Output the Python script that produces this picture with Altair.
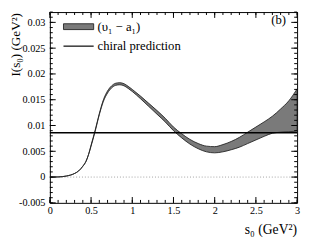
import altair as alt
import pandas as pd

# ---- data ----
s_vals = [0.0, 0.1, 0.2, 0.3, 0.35, 0.4, 0.44, 0.47, 0.5, 0.55, 0.6, 0.65, 0.7, 0.75,
          0.8, 0.85, 0.9, 0.95, 1.0, 1.1, 1.2, 1.3, 1.4, 1.5, 1.6, 1.7, 1.8, 1.9,
          2.0, 2.1, 2.2, 2.3, 2.4, 2.5, 2.6, 2.7, 2.8, 2.9, 3.0]
band_lo = [0.0, 0.00003, 0.0002, 0.0007, 0.0012, 0.0021, 0.0031, 0.0044, 0.0060, 0.0089,
           0.0121, 0.0147, 0.0163, 0.0173, 0.0178, 0.0179, 0.0177, 0.0172, 0.0166,
           0.0152, 0.0137, 0.0122, 0.0107, 0.0090, 0.0076, 0.0064, 0.0055, 0.0049,
           0.0047, 0.0049, 0.0053, 0.0058, 0.0065, 0.0072, 0.0079, 0.0085, 0.0087,
           0.0088, 0.0089]
band_hi = [0.0, 0.00003, 0.0002, 0.0007, 0.0012, 0.0021, 0.0031, 0.0044, 0.0062, 0.0091,
           0.0123, 0.0150, 0.0167, 0.0177, 0.0182, 0.0183, 0.0181, 0.0176, 0.0170,
           0.0157, 0.0143, 0.0129, 0.0114, 0.0097, 0.0084, 0.0073, 0.0065, 0.0060,
           0.0059, 0.0063, 0.0069, 0.0077, 0.0087, 0.0097, 0.0107, 0.0118, 0.0132,
           0.0148, 0.0171]
chiral_value = [0.0086]
zero_value = [0.0]

x_major = [0, 0.5, 1, 1.5, 2, 2.5, 3]
x_minor = [round(0.1 * i, 1) for i in range(31)]
y_major = [-0.005, 0.0, 0.005, 0.01, 0.015, 0.02, 0.025, 0.03]
y_minor = [round(-0.005 + 0.001 * i, 3) for i in range(38)]

legend_band = "(υ\u2081 \u2212 a\u2081)"
legend_line = "chiral prediction"
panel_label = "(b)"
x_title = "s\u2080 (GeV\u00b2)"
y_title = "I(s\u2080)  (GeV\u00b2)"

W, H = 254, 196
FONT = "Liberation Serif"
XDOM = [0, 3]
YDOM = [-0.005, 0.032]

band_df = pd.DataFrame({"s": s_vals, "lo": band_lo, "hi": band_hi})
chiral_df = pd.DataFrame({"v": chiral_value})
zero_df = pd.DataFrame({"v": zero_value})

xs = alt.Scale(domain=XDOM, nice=False, zero=False)
ys = alt.Scale(domain=YDOM, nice=False, zero=False)

x_axis = alt.Axis(values=x_major, ticks=False, tickSize=0, domain=False, grid=False,
                  labelFont=FONT, labelFontSize=10.5, labelColor="black", labelPadding=3,
                  labelExpr="'' + datum.value", labelFlush=False, title=None)
y_axis = alt.Axis(values=y_major, ticks=False, tickSize=0, domain=False, grid=False,
                  labelFont=FONT, labelFontSize=10.5, labelColor="black", labelPadding=5,
                  labelExpr="'' + datum.value", labelFlush=False, title=None)


def X(field):
    return alt.X(field, scale=xs, axis=x_axis, title=None)


def Y(field):
    return alt.Y(field, scale=ys, axis=y_axis, title=None)


zero_line = alt.Chart(zero_df).mark_rule(color="#888888", strokeWidth=0.8, strokeDash=[1, 2]).encode(
    y=Y("v:Q"), x=alt.value(0), x2=alt.value(W),
)

band = alt.Chart(band_df).mark_area(color="#7a7a7a", stroke="#222222", strokeWidth=0.9,
                                    clip=True, interpolate="monotone").encode(
    x=X("s:Q"), y=Y("lo:Q"), y2="hi:Q",
)

chiral = alt.Chart(chiral_df).mark_rule(color="black", strokeWidth=1.4).encode(
    y=Y("v:Q"), x=alt.value(0), x2=alt.value(W),
)


def hticks(vals, L):
    d = pd.DataFrame({"t": vals})
    left = alt.Chart(d).mark_rule(color="black", strokeWidth=1).encode(
        y=Y("t:Q"), x=alt.value(0), x2=alt.value(L))
    right = alt.Chart(d).mark_rule(color="black", strokeWidth=1).encode(
        y=Y("t:Q"), x=alt.value(W - L), x2=alt.value(W))
    return [left, right]


def vticks(vals, L):
    d = pd.DataFrame({"t": vals})
    bottom = alt.Chart(d).mark_rule(color="black", strokeWidth=1).encode(
        x=X("t:Q"), y=alt.value(H), y2=alt.value(H - L))
    top = alt.Chart(d).mark_rule(color="black", strokeWidth=1).encode(
        x=X("t:Q"), y=alt.value(0), y2=alt.value(L))
    return [bottom, top]


tick_layers = hticks(y_minor, 3) + hticks(y_major, 6) + vticks(x_minor, 3) + vticks(x_major, 6)

anchor = pd.DataFrame({"k": [0]})
leg_box = alt.Chart(anchor).mark_rect(color="#7a7a7a", stroke="#222222", strokeWidth=0.9).encode(
    x=alt.value(14), x2=alt.value(45), y=alt.value(12), y2=alt.value(18))
leg_line = alt.Chart(anchor).mark_rule(color="black", strokeWidth=1.2).encode(
    x=alt.value(14), x2=alt.value(45), y=alt.value(35))
leg_t1 = alt.Chart(anchor).mark_text(text=legend_band, font=FONT, fontSize=13, align="left",
                                     baseline="middle", color="black").encode(
    x=alt.value(49), y=alt.value(15))
leg_t2 = alt.Chart(anchor).mark_text(text=legend_line, font=FONT, fontSize=13, align="left",
                                     baseline="middle", color="black").encode(
    x=alt.value(49), y=alt.value(35))
panel = alt.Chart(anchor).mark_text(text=panel_label, font=FONT, fontSize=13, align="center",
                                    baseline="middle", color="black").encode(
    x=alt.value(235), y=alt.value(8))
xt = alt.Chart(anchor).mark_text(text=x_title, font=FONT, fontSize=14, align="right",
                                 baseline="alphabetic", color="black").encode(
    x=alt.value(W), y=alt.value(228))
yt = alt.Chart(anchor).mark_text(text=y_title, font=FONT, fontSize=13.5, align="right",
                                 baseline="middle", angle=270, color="black").encode(
    x=alt.value(-35), y=alt.value(1))

chart = alt.layer(zero_line, band, chiral, *tick_layers, leg_box, leg_line, leg_t1, leg_t2,
                  panel, xt, yt).properties(
    width=W, height=H,
    autosize=alt.AutoSizeParams(type="none"),
    padding={"left": 43, "top": 1, "right": 4, "bottom": 36},
    background="white",
).configure_view(stroke="black", strokeWidth=1)

chart.save("out.html", embed_options={"renderer": "svg", "actions": False})
